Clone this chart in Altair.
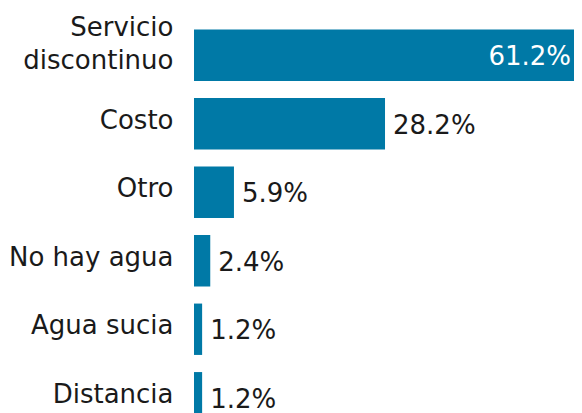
import altair as alt
import pandas as pd

categories = ["Servicio discontinuo", "Costo", "Otro", "No hay agua", "Agua sucia", "Distancia"]
values = [61.2, 28.2, 5.9, 2.4, 1.2, 1.2]
value_labels = ["61.2%", "28.2%", "5.9%", "2.4%", "1.2%", "1.2%"]
inside = [True, False, False, False, False, False]

df = pd.DataFrame({"cat": categories, "val": values, "lab": value_labels, "inside": inside})

FONT = "DejaVu Sans"
COLOR = "#0079a6"

y = alt.Y("cat:N", sort=categories, title=None,
          scale=alt.Scale(paddingInner=0.25, paddingOuter=0.125),
          axis=alt.Axis(domain=False, ticks=False, labelFont=FONT, labelFontSize=26,
                        labelColor="#1a1a1a", labelPadding=21, labelLimit=300,
                        labelLineHeight=33, labelBaseline="middle",
                        labelOffset={"expr": "datum.value == 'Servicio discontinuo' ? -27 : -3"},
                        labelExpr="datum.label == 'Servicio discontinuo' ? ['Servicio', 'discontinuo'] : datum.label"))
x = alt.X("val:Q", title=None, axis=None,
          scale=alt.Scale(domain=[0, 56.1], clamp=True, nice=False, zero=True))

bars = alt.Chart(df).mark_bar(color=COLOR).encode(x=x, y=y)

out_text = alt.Chart(df).transform_filter("!datum.inside").mark_text(
    align="left", baseline="middle", dx=8, dy=2, font=FONT, fontSize=26, color="#1a1a1a"
).encode(x=x, y=y, text="lab:N")

in_text = alt.Chart(df).transform_filter("datum.inside").mark_text(
    align="right", baseline="middle", dx=-3, dy=2, font=FONT, fontSize=26, color="white"
).encode(x=x, y=y, text="lab:N")

chart = alt.layer(bars, out_text, in_text).properties(
    width=380, height=411,
    autosize=alt.AutoSizeParams(type="none"),
    padding={"left": 186, "top": 13, "right": 0, "bottom": 0},
).configure_view(stroke=None)

chart.save("out.html", embed_options={"renderer": "svg", "actions": False})
